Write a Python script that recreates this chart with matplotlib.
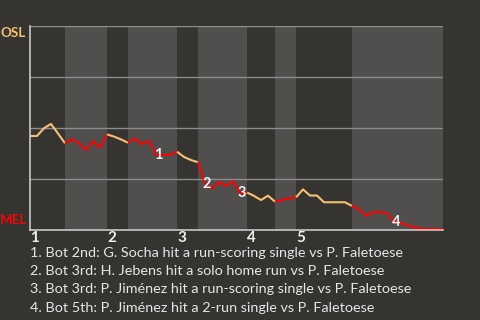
import matplotlib.pyplot as plt

# win probability (1 = OSL, 0 = MEL), one value per play
wp = [0.461, 0.461, 0.499, 0.520, 0.473, 0.425,
      0.446, 0.425, 0.392, 0.436, 0.403, 0.469,
      0.458, 0.444, 0.428,
      0.449, 0.420, 0.438, 0.368, 0.368, 0.368, 0.384,
      0.358, 0.343, 0.332,
      0.225, 0.204, 0.234, 0.216, 0.240, 0.181, 0.184,
      0.167, 0.147, 0.168, 0.139,
      0.147, 0.155, 0.160,
      0.199, 0.169, 0.169, 0.136, 0.136, 0.136, 0.136, 0.118,
      0.103, 0.069, 0.087, 0.087, 0.083, 0.039, 0.034, 0.022,
      0.012, 0.006, 0.005, 0.005, 0.005]

# play index where each half inning starts (last = end of game)
half_starts = [0, 5, 11, 14, 21, 24, 31, 35, 38, 46, 59]
innings = ['1', '2', '3', '4', '5']

event_plays = [18, 25, 30, 52]
event_labels = ['1', '2', '3', '4']
event_texts = [
    '1. Bot 2nd: G. Socha hit a run-scoring single vs P. Faletoese',
    '2. Bot 3rd: H. Jebens hit a solo home run vs P. Faletoese',
    '3. Bot 3rd: P. Jiménez hit a run-scoring single vs P. Faletoese',
    '4. Bot 5th: P. Jiménez hit a 2-run single vs P. Faletoese',
]

bg = '#363430'
band = '#504f4d'
away_col = '#f5c274'
home_col = '#ff0000'

plt.rcParams['font.family'] = ['Lato', 'DejaVu Sans']

fig = plt.figure(figsize=(4.8, 3.2), dpi=100, facecolor=bg)
ax = fig.add_axes([30 / 480, 90 / 320, 413 / 480, 204 / 320])
ax.set_facecolor(bg)

x = list(range(len(wp)))
for i in range(len(half_starts) - 1):
    s, e = half_starts[i], half_starts[i + 1]
    if i % 2 == 1:
        ax.axvspan(s, e, color=band, lw=0, zorder=0)
    col = away_col if i % 2 == 0 else home_col
    ax.plot(x[s:e + 1], wp[s:e + 1], color=col, lw=1.5, zorder=3,
            clip_on=False, solid_capstyle='butt')

for g in [0.25, 0.5, 0.75, 1.0]:
    ax.axhline(g, color='#8c8c8c', lw=1, zorder=1)

ax.set_xlim(0, half_starts[-1])
ax.set_ylim(0, 1)
for sp in ['top', 'right']:
    ax.spines[sp].set_visible(False)
for sp in ['left', 'bottom']:
    ax.spines[sp].set_color('#c8c8c8')
    ax.spines[sp].set_linewidth(1.2)
    ax.spines[sp].set_zorder(4)
ax.set_xticks([])
ax.set_yticks([])

for k, lab in enumerate(innings):
    ax.text(half_starts[2 * k], -0.005, lab, ha='left', va='top',
            fontsize=11, fontweight='bold', color='#eeeeee')

for p, lab in zip(event_plays, event_labels):
    ax.annotate(lab, (x[p], wp[p]), xytext=(1.5, 0), textcoords='offset points',
                ha='center', va='center', fontsize=10.5, fontweight='bold',
                color='#f2f2f2', zorder=5)

fig.text(26 / 480, 1 - 33 / 320, 'OSL', ha='right', va='center',
         fontsize=9.6, fontweight='bold', color=away_col)
fig.text(27 / 480, 1 - 220 / 320, 'MEL', ha='right', va='center',
         fontsize=9.6, fontweight='bold', color=home_col)

for k, t in enumerate(event_texts):
    fig.text(30 / 480, 1 - (253 + 18.2 * k) / 320, t, ha='left', va='center',
             fontsize=10.4, color='#e6e6e6')

fig.savefig('out.png', dpi=100, facecolor=bg)
